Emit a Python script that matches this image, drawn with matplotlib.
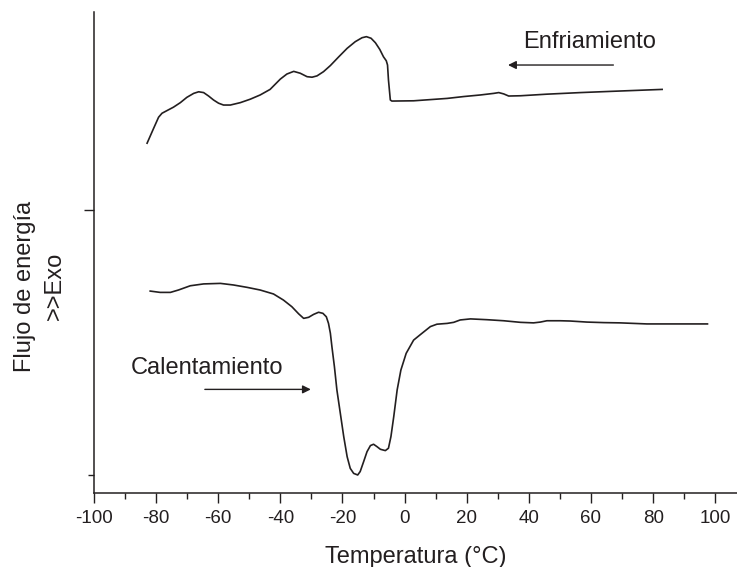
import matplotlib.pyplot as plt
from matplotlib.ticker import MultipleLocator, FixedLocator, NullFormatter

plt.rcParams['font.family'] = ['Liberation Sans', 'DejaVu Sans']
plt.rcParams['axes.unicode_minus'] = False

# enfriamiento (cooling) curve, temperature in C and heat flow (arbitrary units)
cool_t = [-82.9, -80.8, -79.2, -78.1, -76.5, -74.4, -72.2, -70.1, -67.9, -66.3,
          -64.7, -63.1, -61.5, -59.9, -58.3, -56.1, -52.9, -49.7, -46.5, -43.3,
          -40.0, -37.9, -35.7, -33.6, -31.4, -29.8, -28.2, -26.1, -23.9, -21.2,
          -18.5, -15.9, -13.7, -12.3, -10.8, -9.4, -8.0, -6.8, -5.9, -5.5,
          -5.2, -4.6, -4.1, 2.9, 13.7, 19.0, 24.4, 28.7, 30.3, 31.9,
          33.5, 37.3, 45.8, 56.6, 67.3, 82.9]
cool_q = [1.252, 1.308, 1.350, 1.365, 1.375, 1.388, 1.405, 1.425, 1.440, 1.446,
          1.443, 1.430, 1.415, 1.403, 1.396, 1.396, 1.405, 1.418, 1.434, 1.455,
          1.494, 1.513, 1.523, 1.516, 1.503, 1.501, 1.506, 1.522, 1.545, 1.578,
          1.610, 1.635, 1.650, 1.654, 1.648, 1.631, 1.606, 1.578, 1.563, 1.547,
          1.491, 1.415, 1.411, 1.412, 1.421, 1.428, 1.434, 1.440, 1.443, 1.438,
          1.430, 1.431, 1.437, 1.443, 1.448, 1.455]

# calentamiento (heating) curve
heat_t = [-81.9, -78.7, -75.4, -72.8, -69.0, -64.7, -59.3, -55.1, -50.7, -46.5,
          -42.2, -39.0, -36.3, -34.1, -32.5, -30.9, -29.3, -27.7, -26.3, -25.2,
          -24.5, -23.9, -23.4, -22.6, -21.8, -20.7, -19.6, -18.5, -17.5, -16.4,
          -15.1, -14.3, -13.2, -12.1, -11.0, -10.0, -8.9, -7.8, -6.2, -5.2,
          -4.4, -3.5, -2.4, -1.2, 0.5, 2.9, 5.1, 6.7, 8.3, 10.4,
          13.7, 15.8, 17.9, 21.2, 26.5, 31.9, 37.3, 41.5, 43.7, 45.8,
          50.1, 53.3, 58.7, 64.1, 69.4, 78.0, 97.5]
heat_q = [0.694, 0.689, 0.689, 0.698, 0.714, 0.721, 0.723, 0.717, 0.708, 0.698,
          0.683, 0.660, 0.635, 0.608, 0.591, 0.595, 0.606, 0.614, 0.610, 0.597,
          0.572, 0.535, 0.484, 0.409, 0.321, 0.233, 0.145, 0.069, 0.025, 0.006,
          0.000, 0.013, 0.050, 0.088, 0.111, 0.116, 0.107, 0.097, 0.092, 0.101,
          0.145, 0.220, 0.321, 0.396, 0.459, 0.509, 0.530, 0.545, 0.560, 0.569,
          0.572, 0.576, 0.585, 0.589, 0.586, 0.582, 0.576, 0.574, 0.577, 0.582,
          0.582, 0.581, 0.577, 0.575, 0.574, 0.570, 0.570]

ink = '#231f20'

fig = plt.figure(figsize=(7.37, 5.67), dpi=100)
ax = fig.add_axes([0.1275, 0.1305, 0.8725, 0.8483])

ax.plot(cool_t, cool_q, color=ink, lw=1.2, solid_joinstyle='round')
ax.plot(heat_t, heat_q, color=ink, lw=1.2, solid_joinstyle='round')

ax.set_xlim(-100, 107)
ax.set_ylim(-0.068, 1.747)

ax.spines['top'].set_visible(False)
ax.spines['right'].set_visible(False)
for s in ('left', 'bottom'):
    ax.spines[s].set_linewidth(1.1)
    ax.spines[s].set_color(ink)

ax.xaxis.set_major_locator(MultipleLocator(20))
ax.xaxis.set_minor_locator(MultipleLocator(10))
ax.yaxis.set_major_locator(FixedLocator([1.0]))
ax.yaxis.set_minor_locator(FixedLocator([0.0]))
ax.yaxis.set_major_formatter(NullFormatter())
ax.tick_params(which='major', length=7.2, width=1.0, color=ink, labelsize=13.5,
               labelcolor=ink, pad=5)
ax.tick_params(which='minor', length=4.3, width=1.0, color=ink)

ax.set_xlabel('Temperatura (°C)', fontsize=17, color=ink, labelpad=14)
ax.set_ylabel('Flujo de energía\n>>Exo', fontsize=17, color=ink, linespacing=1.45)
ax.yaxis.set_label_coords(-0.044, 0.43)

ax.text(59.5, 1.634, 'Enfriamiento', fontsize=17, color=ink, ha='center', va='center')
ax.annotate('', xy=(32.4, 1.547), xytext=(68.1, 1.547),
            arrowprops=dict(arrowstyle='-|>', color=ink, lw=1.0, mutation_scale=12))
ax.text(-63.7, 0.404, 'Calentamiento', fontsize=17, color=ink, ha='center', va='center')
ax.annotate('', xy=(-29.3, 0.323), xytext=(-65.2, 0.323),
            arrowprops=dict(arrowstyle='-|>', color=ink, lw=1.0, mutation_scale=12))

fig.savefig('out.png', dpi=100)
